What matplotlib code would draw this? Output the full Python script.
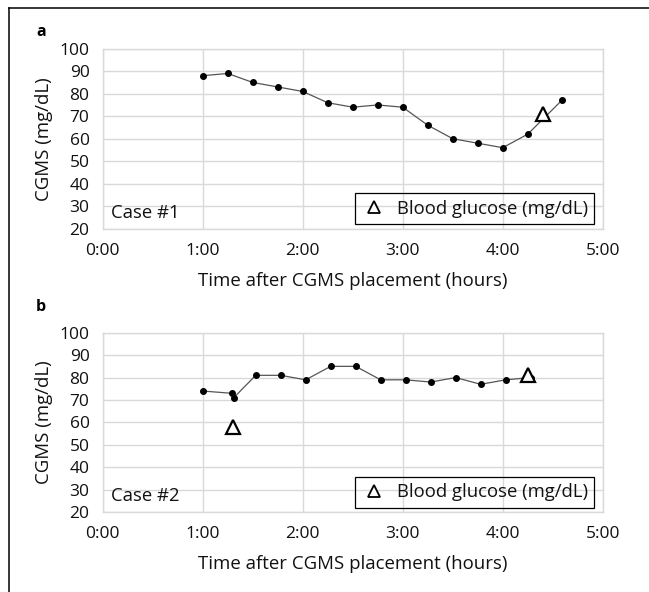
import matplotlib
matplotlib.use('Agg')
import matplotlib.pyplot as plt
from matplotlib.lines import Line2D

plt.rcParams['font.family'] = ['Open Sans', 'DejaVu Sans']

# ---- data ----
a_time = [1.00, 1.25, 1.50, 1.75, 2.00, 2.25, 2.50, 2.75, 3.00, 3.25, 3.50, 3.75, 4.00, 4.25, 4.59]
a_cgms = [88, 89, 85, 83, 81, 76, 74, 75, 74, 66, 60, 58, 56, 62, 77]
a_bg_time = [4.40]
a_bg = [71]

b_time = [1.00, 1.29, 1.31, 1.53, 1.78, 2.03, 2.28, 2.53, 2.78, 3.03, 3.28, 3.53, 3.78, 4.03, 4.28]
b_cgms = [74, 73, 71, 81, 81, 79, 85, 85, 79, 79, 78, 80, 77, 79, 80]
b_bg_time = [1.30, 4.25]
b_bg = [58, 81]

x_ticks = [0, 1, 2, 3, 4, 5]
x_tick_labels = ['0:00', '1:00', '2:00', '3:00', '4:00', '5:00']
y_ticks = [20, 30, 40, 50, 60, 70, 80, 90, 100]
panel_letters = ['a', 'b']
case_labels = ['Case #1', 'Case #2']
x_label = 'Time after CGMS placement (hours)'
y_label = 'CGMS (mg/dL)'
legend_label = 'Blood glucose (mg/dL)'

W, H = 649, 592
fig = plt.figure(figsize=(W / 100, H / 100), dpi=100)

grid_col = '#d9d9d9'
txt_col = '#111111'
fs_tick = 12.5
fs_title = 13.4
fs_leg = 13.3

panels = [
    (a_time, a_cgms, a_bg_time, a_bg, 48.7, 228.7, 32),
    (b_time, b_cgms, b_bg_time, b_bg, 332.7, 512.2, 307),
]

for i, (t, c, bt, bg, top, bot, ly) in enumerate(panels):
    left, right = 102.7, 602.7
    ax = fig.add_axes([left / W, 1 - bot / H, (right - left) / W, (bot - top) / H])
    ax.set_xlim(0, 5)
    ax.set_ylim(20, 100)
    ax.set_xticks(x_ticks)
    ax.set_xticklabels(x_tick_labels)
    ax.set_yticks(y_ticks)
    ax.grid(True, color=grid_col, linewidth=1.0)
    ax.set_axisbelow(True)
    for s in ax.spines.values():
        s.set_color(grid_col)
        s.set_linewidth(1.0)
    ax.tick_params(length=0, labelsize=fs_tick, colors=txt_col)
    ax.tick_params(axis='y', pad=9.5)
    ax.tick_params(axis='x', pad=10)
    ax.plot(t, c, color='#555555', linewidth=0.9, marker='o', markersize=4.0,
            markerfacecolor='black', markeredgecolor='black', zorder=3)
    ax.plot(bt, bg, linestyle='none', marker='^', markersize=9.5,
            markerfacecolor='white', markeredgecolor='black', markeredgewidth=1.6, zorder=4)
    ax.set_xlabel(x_label, fontsize=fs_title, labelpad=9.5, color=txt_col)
    ax.set_ylabel(y_label, fontsize=fs_title, labelpad=5, color=txt_col)
    ax.text(0.017, 0.089, case_labels[i], transform=ax.transAxes, fontsize=fs_leg,
            ha='left', va='center', color=txt_col)
    handle = Line2D([], [], linestyle='none', marker='^', markersize=9,
                    markerfacecolor='white', markeredgecolor='black', markeredgewidth=1.3)
    leg = ax.legend([handle], [legend_label], loc='lower right',
                    bbox_to_anchor=(0.983, 0.026), borderaxespad=0, fontsize=fs_leg,
                    frameon=True, fancybox=False, edgecolor='black',
                    handlelength=1.3, handletextpad=0.6, borderpad=0.35)
    leg.get_frame().set_facecolor('none')
    leg.get_frame().set_alpha(None)
    leg.get_frame().set_linewidth(0.9)
    for tx in leg.get_texts():
        tx.set_color(txt_col)
    fig.text(41 / W, 1 - ly / H, panel_letters[i], fontsize=11.5, fontweight='bold',
             ha='center', va='center')

# outer frame (top and left edges)
fig.add_artist(Line2D([9 / W, 1], [1 - 8.3 / H, 1 - 8.3 / H], color='black', linewidth=1.1,
                      transform=fig.transFigure))
fig.add_artist(Line2D([9.3 / W, 9.3 / W], [0, 1 - 8.3 / H], color='black', linewidth=1.1,
                      transform=fig.transFigure))

fig.savefig('out.png', dpi=100)
